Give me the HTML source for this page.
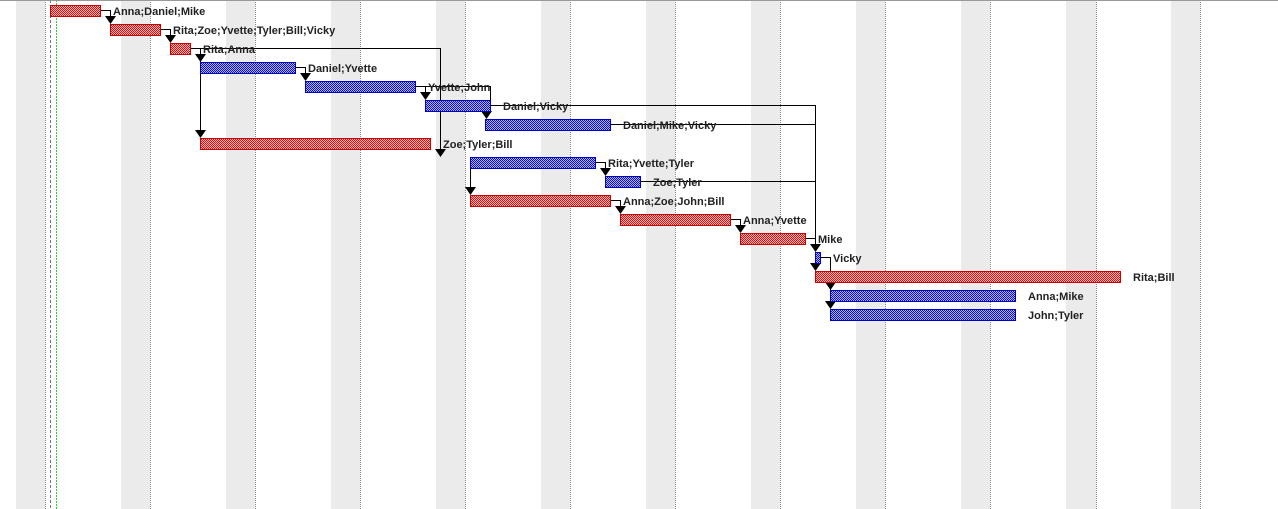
<!DOCTYPE html>
<html><head><meta charset="utf-8"><style>
html,body{margin:0;padding:0;background:#fff;}
svg{display:block;}
text{font-family:"Liberation Sans",sans-serif;font-weight:bold;font-size:11px;fill:#222;}
</style></head><body>
<svg width="1278" height="509" viewBox="0 0 1278 509" xmlns="http://www.w3.org/2000/svg">
<defs>
<pattern id="rd" width="2" height="2" patternUnits="userSpaceOnUse"><rect width="2" height="2" fill="#f4b0b0"/><rect width="1" height="1" fill="#c81818"/><rect x="1" y="1" width="1" height="1" fill="#c81818"/></pattern>
<pattern id="bl" width="2" height="2" patternUnits="userSpaceOnUse"><rect width="2" height="2" fill="#b0b0f4"/><rect width="1" height="1" fill="#1010b8"/><rect x="1" y="1" width="1" height="1" fill="#1010b8"/></pattern>
</defs>
<rect width="1278" height="509" fill="#fff"/>
<g fill="#ebebeb">
<rect x="16" y="0" width="29" height="509"/>
<rect x="121" y="0" width="29" height="509"/>
<rect x="226" y="0" width="29" height="509"/>
<rect x="331" y="0" width="29" height="509"/>
<rect x="436" y="0" width="29" height="509"/>
<rect x="541" y="0" width="29" height="509"/>
<rect x="646" y="0" width="29" height="509"/>
<rect x="751" y="0" width="29" height="509"/>
<rect x="856" y="0" width="29" height="509"/>
<rect x="961" y="0" width="29" height="509"/>
<rect x="1066" y="0" width="30" height="509"/>
<rect x="1171" y="0" width="29" height="509"/>
</g>
<g stroke="#888" stroke-width="1" stroke-dasharray="1,1">
<line x1="45.5" y1="0" x2="45.5" y2="509"/><line x1="150.5" y1="0" x2="150.5" y2="509"/><line x1="255.5" y1="0" x2="255.5" y2="509"/><line x1="360.5" y1="0" x2="360.5" y2="509"/><line x1="465.5" y1="0" x2="465.5" y2="509"/><line x1="570.5" y1="0" x2="570.5" y2="509"/><line x1="675.5" y1="0" x2="675.5" y2="509"/><line x1="780.5" y1="0" x2="780.5" y2="509"/><line x1="885.5" y1="0" x2="885.5" y2="509"/><line x1="990.5" y1="0" x2="990.5" y2="509"/><line x1="1096.5" y1="0" x2="1096.5" y2="509"/><line x1="1200.5" y1="0" x2="1200.5" y2="509"/>
</g>
<line x1="50.5" y1="0" x2="50.5" y2="509" stroke="#777" stroke-dasharray="3,2"/>
<line x1="56.5" y1="0" x2="56.5" y2="509" stroke="#3c3" stroke-dasharray="2,1"/>
<line x1="0" y1="0.5" x2="1278" y2="0.5" stroke="#999"/>

<g fill="none" stroke="#000" stroke-width="1">
<polyline points="100,10.5 110.5,10.5 110.5,22"/>
<polyline points="160,29.5 170.5,29.5 170.5,41"/>
<polyline points="190,48.5 440.5,48.5 440.5,155"/>
<polyline points="190,48.5 200.5,48.5 200.5,136"/>
<polyline points="295,67.5 305.5,67.5 305.5,79"/>
<polyline points="415,86.5 425.5,86.5 425.5,98"/>
<polyline points="415,86.5 490.5,86.5 490.5,112 486.5,112 486.5,117"/>
<polyline points="490,105.5 815.5,105.5 815.5,250"/>
<polyline points="610,124.5 815.5,124.5"/>
<polyline points="640,181.5 815.5,181.5"/>
<polyline points="595,162.5 605.5,162.5 605.5,174"/>
<polyline points="470.5,168 470.5,193"/>
<polyline points="610,200.5 620.5,200.5 620.5,212"/>
<polyline points="730,219.5 740.5,219.5 740.5,231"/>
<polyline points="805,238.5 815.5,238.5"/>
<polyline points="815.5,262 815.5,269"/>
<polyline points="821,257.5 830.5,257.5 830.5,271"/>
<polyline points="830.5,282 830.5,307"/>
</g>
<g fill="#000">
<polygon points="105,16 116,16 110.5,24"/>
<polygon points="165,35 176,35 170.5,43"/>
<polygon points="195,54 206,54 200.5,62"/>
<polygon points="195,130 206,130 200.5,138"/>
<polygon points="300,73 311,73 305.5,81"/>
<polygon points="420,92 431,92 425.5,100"/>
<polygon points="481,111 492,111 486.5,119"/>
<polygon points="435,149 446,149 440.5,157"/>
<polygon points="600,168 611,168 605.5,176"/>
<polygon points="465,187 476,187 470.5,195"/>
<polygon points="615,206 626,206 620.5,214"/>
<polygon points="735,225 746,225 740.5,233"/>
<polygon points="810,244 821,244 815.5,252"/>
<polygon points="810,263 821,263 815.5,271"/>
<polygon points="825,282 836,282 830.5,290"/>
<polygon points="825,301 836,301 830.5,309"/>
</g>

<g stroke-width="1">
<rect x="50.5" y="5.5" width="50" height="11" fill="url(#rd)" stroke="#c00"/>
<rect x="110.5" y="24.5" width="50" height="11" fill="url(#rd)" stroke="#c00"/>
<rect x="170.5" y="43.5" width="20" height="11" fill="url(#rd)" stroke="#c00"/>
<rect x="200.5" y="62.5" width="95" height="11" fill="url(#bl)" stroke="#00c"/>
<rect x="305.5" y="81.5" width="110" height="11" fill="url(#bl)" stroke="#00c"/>
<rect x="425.5" y="100.5" width="65" height="11" fill="url(#bl)" stroke="#00c"/>
<rect x="485.5" y="119.5" width="125" height="11" fill="url(#bl)" stroke="#00c"/>
<rect x="200.5" y="138.5" width="230" height="11" fill="url(#rd)" stroke="#c00"/>
<rect x="470.5" y="157.5" width="125" height="11" fill="url(#bl)" stroke="#00c"/>
<rect x="605.5" y="176.5" width="35" height="11" fill="url(#bl)" stroke="#00c"/>
<rect x="470.5" y="195.5" width="140" height="11" fill="url(#rd)" stroke="#c00"/>
<rect x="620.5" y="214.5" width="110" height="11" fill="url(#rd)" stroke="#c00"/>
<rect x="740.5" y="233.5" width="65" height="11" fill="url(#rd)" stroke="#c00"/>
<rect x="815.5" y="252.5" width="5" height="11" fill="url(#bl)" stroke="#00c"/>
<rect x="815.5" y="271.5" width="305" height="11" fill="url(#rd)" stroke="#c00"/>
<rect x="830.5" y="290.5" width="185" height="11" fill="url(#bl)" stroke="#00c"/>
<rect x="830.5" y="309.5" width="185" height="11" fill="url(#bl)" stroke="#00c"/>
</g>

<text x="113" y="15">Anna;Daniel;Mike</text>
<text x="173" y="34">Rita;Zoe;Yvette;Tyler;Bill;Vicky</text>
<text x="203" y="53">Rita;Anna</text>
<text x="308" y="72">Daniel;Yvette</text>
<text x="428" y="91">Yvette;John</text>
<text x="503" y="110">Daniel;Vicky</text>
<text x="623" y="129">Daniel;Mike;Vicky</text>
<text x="443" y="148">Zoe;Tyler;Bill</text>
<text x="608" y="167">Rita;Yvette;Tyler</text>
<text x="653" y="186">Zoe;Tyler</text>
<text x="623" y="205">Anna;Zoe;John;Bill</text>
<text x="743" y="224">Anna;Yvette</text>
<text x="818" y="243">Mike</text>
<text x="833" y="262">Vicky</text>
<text x="1133" y="281">Rita;Bill</text>
<text x="1028" y="300">Anna;Mike</text>
<text x="1028" y="319">John;Tyler</text>
</svg>
</body></html>
